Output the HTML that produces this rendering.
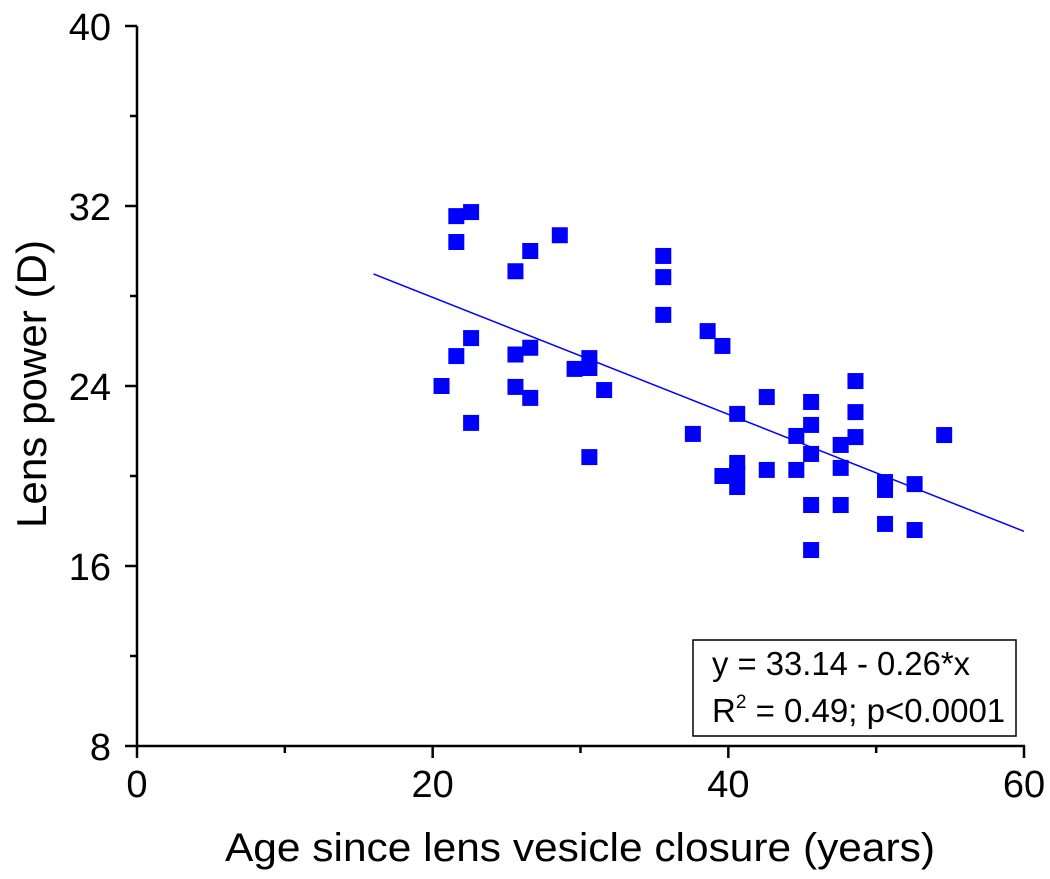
<!DOCTYPE html>
<html><head><meta charset="utf-8"><style>
html,body{margin:0;padding:0;background:#fff;}
svg text{font-family:"Liberation Sans",Arial,sans-serif;fill:#000;}
</style></head><body>
<svg id="chart" width="1050" height="874" xmlns="http://www.w3.org/2000/svg">
<g id="axes"></g>
<g id="marks"></g>
<text x="225" y="861" font-size="40" textLength="710" lengthAdjust="spacingAndGlyphs">Age since lens vesicle closure (years)</text>
<text transform="translate(46,384) rotate(-90)" font-size="42" text-anchor="middle" textLength="288" lengthAdjust="spacingAndGlyphs">Lens power (D)</text>
<g>
<rect x="693" y="640" width="323" height="96" fill="#fff" stroke="#000" stroke-width="1.5"/>
<text x="712" y="675" font-size="33" textLength="258" lengthAdjust="spacingAndGlyphs">y = 33.14 - 0.26*x</text>
<text x="712" y="722" font-size="33">R<tspan font-size="19" dy="-14">2</tspan><tspan dy="14"> = 0.49; p&lt;0.0001</tspan></text>
</g>
</svg>
<script>
const xs=[20.6,21.6,21.6,21.6,22.6,22.6,22.6,25.6,25.6,25.6,26.6,26.6,26.6,28.6,29.6,30.6,30.6,30.6,31.6,35.6,35.6,35.6,37.6,38.6,39.6,39.6,40.6,40.6,40.6,40.6,42.6,42.6,44.6,44.6,45.6,45.6,45.6,45.6,45.6,47.6,47.6,47.6,48.6,48.6,48.6,50.6,50.6,50.6,52.6,52.6,54.6];
const ys=[24.0,31.55,30.4,25.33,31.73,26.13,22.36,29.1,25.4,23.96,30.0,25.7,23.47,30.7,24.76,25.24,24.8,20.84,23.82,29.78,28.84,27.16,21.87,26.44,25.78,20.0,22.76,20.58,20.13,19.51,20.27,23.51,21.78,20.27,23.29,22.27,20.98,18.71,16.71,21.38,20.36,18.71,24.22,22.84,21.73,19.73,19.38,17.87,19.64,17.6,21.82];
const xTicks=[0,20,40,60];
const xMinor=[10,30,50];
const yTicks=[8,16,24,32,40];
const yMinor=[12,20,28,36];
const fitIntercept=33.14, fitSlope=-0.26, fitRange=[16,60];
const X0=137,X1=1024,Y0=746,Y1=26;
const sx=v=>X0+(v-0)/(60-0)*(X1-X0);
const sy=v=>Y0-(v-8)/(40-8)*(Y0-Y1);
const NS="http://www.w3.org/2000/svg";
function mk(t,a,p){const e=document.createElementNS(NS,t);for(const k in a)e.setAttribute(k,a[k]);p.appendChild(e);return e;}
const ax=document.getElementById('axes');
let l=mk('line',{x1:X0,y1:Y0,x2:X1+1,y2:Y0,stroke:'#000','stroke-width':2.5},ax);


l=mk('line',{x1:X0,y1:Y0+1,x2:X0,y2:Y1,stroke:'#000','stroke-width':2.5},ax);


xTicks.forEach(v=>{mk('line',{x1:sx(v),y1:Y0,x2:sx(v),y2:Y0+12,stroke:'#000','stroke-width':2.5},ax);
const t=mk('text',{x:sx(v),y:Y0+51,'font-size':38,'text-anchor':'middle'},ax);t.textContent=v;

});
xMinor.forEach(v=>mk('line',{x1:sx(v),y1:Y0,x2:sx(v),y2:Y0+7,stroke:'#000','stroke-width':2.5},ax));
yTicks.forEach(v=>{mk('line',{x1:X0-12,y1:sy(v),x2:X0,y2:sy(v),stroke:'#000','stroke-width':2.5},ax);
const t=mk('text',{x:X0-26,y:sy(v)+14,'font-size':38,'text-anchor':'end'},ax);t.textContent=v;

});
yMinor.forEach(v=>mk('line',{x1:X0-7,y1:sy(v),x2:X0,y2:sy(v),stroke:'#000','stroke-width':2.5},ax));
const mg=document.getElementById('marks');
const fl=mk('line',{x1:sx(fitRange[0]),y1:sy(fitIntercept+fitSlope*fitRange[0]),x2:sx(fitRange[1]),y2:sy(fitIntercept+fitSlope*fitRange[1]),stroke:'#0000ff','stroke-width':1.5},mg);


xs.forEach((x,i)=>{const r=mk('rect',{x:sx(x)-8,y:sy(ys[i])-8,width:16,height:16,fill:'#0000ff'},mg);

});
</script>
</body></html>
